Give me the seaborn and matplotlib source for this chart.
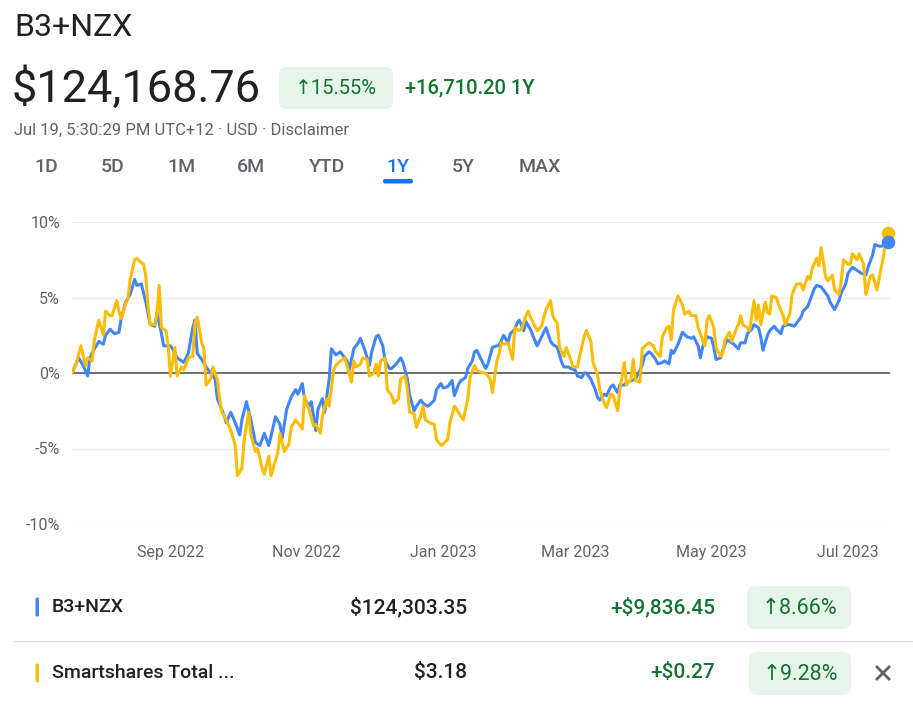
import pandas as pd
import matplotlib
matplotlib.use("Agg")
import matplotlib.pyplot as plt
import matplotlib.dates as mdates
from matplotlib.patches import FancyBboxPatch
import seaborn as sns

# ---------------- data ----------------
start_date = "2022-07-19"
series_names = ["B3+NZX", "Smartshares Total ..."]

b3_days = [0, 3, 5, 7, 8, 10, 12, 14, 15, 17, 19, 21, 22, 24, 26, 28, 29, 31, 33, 35, 37, 38, 40, 41, 44, 45, 47,
           50, 52, 54, 55, 56, 58, 60, 62, 64, 65, 68, 69, 71, 73, 75, 76, 78, 80, 82, 84, 86, 88,
           91, 93, 94, 96, 98, 100, 101, 103, 104, 106, 107, 109, 110, 112, 113, 115, 116, 118, 120, 121, 123, 124,
           126, 128, 129, 131, 133, 134, 136, 137, 139, 140, 142, 143, 145, 147, 148, 150, 151, 153, 154, 156, 157,
           159, 160, 162, 163, 165, 166, 168, 170, 171, 173, 174, 176, 177, 179, 180,
           181, 183, 185, 186, 188, 190, 191, 193, 195, 196, 198, 199, 200, 202, 203, 205, 206, 208, 209, 211, 212,
           214, 215, 217, 219, 220, 222, 223, 225, 226, 228, 229, 230, 232, 234, 235, 236, 238, 239, 241, 242, 244,
           245, 247, 248, 250, 252, 253, 255, 256, 258, 259, 261, 262, 264, 265, 267, 268, 269,
           271, 273, 275, 277, 278, 280, 281, 282, 284, 286, 287, 288, 290, 292, 293, 295, 296, 298, 299, 301, 302,
           304, 305, 307, 308, 309, 311, 312, 314, 315, 317, 318, 320, 321, 323, 324, 326, 327, 329, 330, 332, 333,
           335, 336, 338, 339, 341, 343, 344, 346, 347, 349, 350, 352, 353, 355, 356, 358, 359, 361, 362, 364, 365]
b3_pct = [0.0, 1.0, 0.5, -0.2, 1.0, 1.6, 2.1, 1.9, 2.5, 2.9, 2.6, 2.7, 3.6, 4.7, 5.2, 6.2, 5.8, 5.9, 4.7, 3.2, 3.1, 4.0, 2.6, 1.8, 1.8, 1.6, 1.0,
          0.7, 1.3, 3.0, 3.5, 1.3, 0.9, 0.4, 0.0, -0.4, -1.7, -2.8, -3.3, -2.6, -3.3, -4.1, -3.1, -1.9, -3.1, -4.6, -4.8, -4.0, -4.8,
          -2.9, -3.4, -4.3, -2.4, -1.6, -1.1, -1.4, -0.7, -1.7, -2.2, -1.9, -3.8, -2.4, -1.7, -2.6, -0.4, 1.6, 1.2, 1.4, 1.2, 0.8, 0.2,
          1.6, 2.0, 2.3, 1.5, 0.5, 1.4, 2.4, 2.5, 1.8, 0.8, 0.3, 0.3, 0.6, 1.0, 0.7, -0.4, -1.5, -2.5, -2.2, -1.8, -2.0,
          -2.2, -2.1, -1.8, -1.1, -0.7, -1.0, -0.9, -0.5, -1.5, -0.7, -0.5, -0.3, 0.3, 0.8, 1.4,
          1.5, 0.9, 0.3, 0.6, 1.7, 1.8, 1.8, 2.5, 2.0, 2.6, 2.9, 3.3, 3.5, 2.8, 3.4, 2.9, 2.5, 1.8, 2.1, 2.7, 3.0,
          2.1, 1.9, 1.7, 0.7, 0.4, 0.4, 0.3, 0.2, -0.2, -0.3, 0.0, 0.0, -0.4, -1.1, -1.6, -1.8, -1.4, -1.5, -0.9, -0.8, -1.3,
          -0.8, -0.8, -0.6, -0.5, -0.4, -0.1, 0.5, 1.1, 1.4, 1.3, 0.9, 0.6, 0.7, 0.8, 0.6, 1.5, 1.3,
          1.9, 2.7, 2.4, 2.3, 2.4, 1.8, 1.0, 1.7, 2.4, 2.3, 1.7, 0.9, 1.0, 1.9, 2.2, 2.0, 1.9, 1.6, 2.0, 2.0, 2.6,
          2.9, 3.2, 3.0, 2.4, 1.5, 2.5, 2.8, 3.1, 2.9, 2.6, 3.1, 3.2, 3.2, 3.1, 3.3, 3.7, 4.1, 4.4, 4.8, 5.6, 5.8,
          5.7, 5.5, 5.1, 4.7, 4.2, 4.8, 5.3, 5.9, 6.6, 7.0, 6.9, 6.7, 6.6, 6.5, 7.0, 7.8, 8.5, 8.4, 8.4, 8.5, 8.66]

ss_days = [0, 2, 4, 6, 7, 9, 10, 12, 14, 15, 17, 18, 20, 21, 22, 24, 25, 26, 28, 29, 31, 32, 33, 34, 35, 37, 38, 39,
           40, 42, 43, 44, 46, 47, 49, 50, 52, 54, 55, 56, 58, 59, 60, 62, 63, 65, 66, 67, 69, 71, 73, 74, 76, 77,
           79, 80, 82, 83, 85, 86, 88, 89,
           92, 93, 95, 97, 98, 100, 101, 103, 104, 105, 106, 108, 109, 111, 112, 114, 115, 117, 118, 120, 122, 123,
           125, 126, 127, 129, 130, 132, 133, 135, 136, 137, 138, 140, 141, 143, 144, 146, 147, 149, 150, 151, 153,
           154, 156, 157, 158, 160, 162, 163, 165, 166, 168, 169, 171, 172, 174, 175, 177, 178, 180,
           181, 182, 184, 185, 187, 188, 190, 191, 192, 194, 195, 197, 198, 200, 201, 203, 204, 205, 207, 208, 210,
           211, 212, 214, 215, 216, 217, 218, 220, 221, 223, 224, 226, 227, 229, 230, 232, 233, 235, 236, 238, 239,
           241, 242, 244, 245, 247, 248, 250, 251, 252, 254, 255, 257, 258, 260, 261, 263, 264, 266, 267, 268, 269,
           271, 273, 274, 276, 277, 279, 280, 282, 283, 284, 285, 287, 288, 290, 291, 292, 294, 295, 297, 298, 299,
           300, 302, 303, 305, 306, 307, 308, 310, 311, 312, 313, 315, 316, 318, 319, 321, 322, 324, 326, 327, 329,
           330, 331, 333, 334, 335, 337, 338, 340, 341, 343, 344, 345, 347, 348, 349, 351, 352, 354, 355, 357, 358,
           360, 361, 363, 364, 365]
ss_pct = [0.0, 0.7, 1.8, 0.5, 1.0, 0.8, 2.2, 3.5, 2.5, 4.1, 3.8, 3.8, 4.8, 4.1, 3.6, 4.6, 4.9, 6.2, 7.5, 7.6, 7.3, 7.2, 6.4, 4.4, 3.2, 3.2, 3.9, 5.8,
          3.0, 2.8, 1.8, -0.2, 1.7, -0.2, 0.4, 0.2, 1.0, 1.1, 3.3, 3.7, 2.0, 1.6, -0.8, -0.4, 0.4, -0.4, -1.7, -2.6, -3.1, -3.8, -4.8, -6.8, -6.3, -4.4,
          -2.6, -4.1, -5.2, -5.0, -6.3, -6.7, -5.5, -6.8,
          -5.3, -4.0, -5.2, -4.7, -3.6, -3.1, -3.3, -3.7, -1.5, -2.1, -2.4, -3.5, -3.4, -4.0, -2.8, -1.7, -2.2, 0.2, 0.5, 0.8, 1.0, 0.5,
          -0.6, 0.8, 0.4, 0.6, 1.0, 0.9, -0.2, 0.0, 0.6, -0.2, 0.8, 1.0, -1.1, -1.5, -2.0, -1.7, -0.4, -0.2, -1.1, -2.6, -2.7,
          -3.6, -2.8, -2.2, -3.1, -3.3, -3.4, -4.4, -4.8, -4.7, -4.4, -3.3, -2.2, -2.4, -2.9, -3.1, -1.7, -0.3, 0.5,
          0.2, 0.1, 0.0, 0.0, -0.4, -1.3, 0.8, 1.3, 2.0, 1.9, 2.0, 0.9, 3.0, 2.8, 2.9, 3.8, 4.1, 3.7, 3.1, 2.8, 3.1,
          3.7, 4.2, 4.8, 3.8, 3.5, 3.3, 1.7, 1.1, 1.7, 0.9, 0.4, 0.4, 1.1, 2.4, 2.8, 2.1, 0.7, -0.1, -1.1, -2.0, -2.3,
          -1.4, -1.5, -2.5, -1.1, 0.7, -0.8, -0.4, 0.9, -0.5, -0.6, 1.6, 1.9, 2.0, 1.8, 1.4, 1.1, 2.4, 3.0, 3.1, 2.2, 4.2,
          5.1, 4.5, 3.9, 4.1, 3.8, 3.8, 3.0, 2.2, 1.8, 3.5, 3.8, 3.0, 1.7, 1.1, 1.3, 2.2, 2.7, 2.1, 2.9, 3.2, 3.8,
          3.2, 3.0, 2.8, 4.8, 3.5, 4.5, 3.2, 4.7, 4.0, 3.9, 5.1, 5.0, 4.5, 3.8, 3.2, 3.9, 5.2, 5.9, 5.9, 5.5, 6.4,
          6.2, 6.9, 7.6, 7.1, 8.3, 6.4, 6.1, 6.5, 5.5, 5.2, 6.1, 7.5, 7.2, 7.2, 7.9, 7.5, 7.9, 7.2, 5.2, 6.4, 6.5,
          5.5, 6.3, 7.8, 8.9, 9.28]

y_ticks = [10, 5, 0, -5, -10]
y_tick_labels = ["10%", "5%", "0%", "-5%", "-10%"]
x_tick_dates = ["2022-09-01", "2022-11-01", "2023-01-01", "2023-03-01", "2023-05-01", "2023-07-01"]
x_tick_labels = ["Sep 2022", "Nov 2022", "Jan 2023", "Mar 2023", "May 2023", "Jul 2023"]

title = "B3+NZX"
price = "$124,168.76"
change_pct = "15.55%"
change_abs = "+16,710.20 1Y"
subtitle = "Jul 19, 5:30:29 PM UTC+12 · USD · Disclaimer"
tabs = ["1D", "5D", "1M", "6M", "YTD", "1Y", "5Y", "MAX"]
active_tab = "1Y"
row_prices = ["$124,303.35", "$3.18"]
row_changes = ["+$9,836.45", "+$0.27"]
row_pcts = ["8.66%", "9.28%"]

# ---------------- style ----------------
BLUE = "#4285f4"
YELLOW = "#fbbc04"
DARK = "#202124"
GRAY = "#5f6368"
GREEN = "#137333"
GREEN_BG = "#e6f4ea"
TAB_BLUE = "#1a73e8"

sns.set_style("white")
plt.rcParams["font.family"] = ["Roboto", "DejaVu Sans"]

W, H = 913, 707
fig = plt.figure(figsize=(W / 100, H / 100), dpi=100)
fig.patch.set_facecolor("white")

# overlay axes in pixel coordinates for the text furniture
ov = fig.add_axes([0, 0, 1, 1])
ov.set_xlim(0, W)
ov.set_ylim(H, 0)
ov.axis("off")
ov.patch.set_alpha(0)

def badge(x0, x1, y0, y1, text, size):
    ov.add_patch(FancyBboxPatch((x0, y0), x1 - x0, y1 - y0,
                                boxstyle="round,pad=0,rounding_size=8",
                                fc=GREEN_BG, ec="none"))
    ov.text((x0 + x1) / 2, (y0 + y1) / 2 + 1, "\u2191" + text, color=GREEN, fontsize=size,
            ha="center", va="center")

ov.text(14, 27, title, fontsize=23, color=DARK, ha="left", va="center")
ov.text(12, 89, price, fontsize=32.5, color=DARK, ha="left", va="center")
badge(279, 393, 67, 109, change_pct, 14.5)
ov.text(405, 88, change_abs, fontsize=14.5, color=GREEN, ha="left", va="center", fontweight="medium")
ov.text(14, 130, subtitle, fontsize=12, color=GRAY, ha="left", va="center")

tab_x = [46, 113, 181, 251, 327, 398, 463, 540]
for t, tx in zip(tabs, tab_x):
    c = TAB_BLUE if t == active_tab else GRAY
    ov.text(tx, 167, t, fontsize=14, color=c, ha="center", va="center", fontweight="medium")
    if t == active_tab:
        ov.add_patch(FancyBboxPatch((tx - 15, 179), 30, 4.5,
                                    boxstyle="round,pad=0,rounding_size=2", fc=TAB_BLUE, ec="none"))

# table rows
row_y = [607, 673]
row_colors = [BLUE, YELLOW]
badge_x = [(747, 851), (749, 851)]
for i in range(2):
    y = row_y[i]
    ov.add_patch(FancyBboxPatch((35.5, y - 9.5), 3.5, 19, boxstyle="round,pad=0,rounding_size=1.5",
                                fc=row_colors[i], ec="none"))
    ov.text(52, y, series_names[i], fontsize=14, color=DARK, ha="left", va="center", fontweight="medium")
    ov.text(467, y, row_prices[i], fontsize=15, color=DARK, ha="right", va="center", fontweight="medium")
    ov.text(715, y, row_changes[i], fontsize=15, color=GREEN, ha="right", va="center", fontweight="medium")
    badge(badge_x[i][0], badge_x[i][1], y - 21, y + 22, row_pcts[i], 15.5)
ov.plot([14, W], [641, 641], color="#dadce0", lw=1)
ov.plot([876, 890], [666, 680], color=GRAY, lw=2, solid_capstyle="butt")
ov.plot([876, 890], [680, 666], color=GRAY, lw=2, solid_capstyle="butt")

# ---------------- chart ----------------
t0 = pd.Timestamp(start_date)
df = pd.concat([
    pd.DataFrame({"date": t0 + pd.to_timedelta(b3_days, unit="D"), "pct": b3_pct, "series": series_names[0]}),
    pd.DataFrame({"date": t0 + pd.to_timedelta(ss_days, unit="D"), "pct": ss_pct, "series": series_names[1]}),
], ignore_index=True)

left_px, right_px, top_px, bot_px = 72, 890, 222, 524
ax = fig.add_axes([left_px / W, 1 - bot_px / H, (right_px - left_px) / W, (bot_px - top_px) / H])
ax.patch.set_alpha(0)

for yv in y_ticks:
    if yv == 0:
        ax.axhline(0, color=GRAY, lw=1.3, zorder=1)
    else:
        ax.axhline(yv, color="#ebedf0", lw=1, zorder=0)

sns.lineplot(data=df, x="date", y="pct", hue="series", palette=[BLUE, YELLOW],
             linewidth=2.2, legend=False, ax=ax, estimator=None, sort=True, zorder=3)

last_b3 = df[df.series == series_names[0]].iloc[-1]
last_ss = df[df.series == series_names[1]].iloc[-1]
ax.scatter([last_ss.date], [last_ss.pct], s=95, color=YELLOW, zorder=5, clip_on=False, linewidths=0)
ax.scatter([last_b3.date], [last_b3.pct], s=95, color=BLUE, zorder=6, clip_on=False, linewidths=0)

ax.set_ylim(-10, 10)
ax.set_xlim(t0, t0 + pd.Timedelta(days=365.8))
ax.set_yticks(y_ticks)
ax.set_yticklabels(y_tick_labels)
ax.set_xticks(pd.to_datetime(x_tick_dates))
ax.set_xticklabels(x_tick_labels)
ax.tick_params(axis="y", length=0, pad=8.5, labelsize=11.5, labelcolor=GRAY)
ax.tick_params(axis="x", length=7, width=1.5, color=GRAY, pad=8, labelsize=11.5, labelcolor=GRAY, direction="out")
for s in ax.spines.values():
    s.set_visible(False)
ax.set_xlabel("")
ax.set_ylabel("")
ax.grid(False)

fig.savefig("out.png", dpi=100, facecolor="white")
